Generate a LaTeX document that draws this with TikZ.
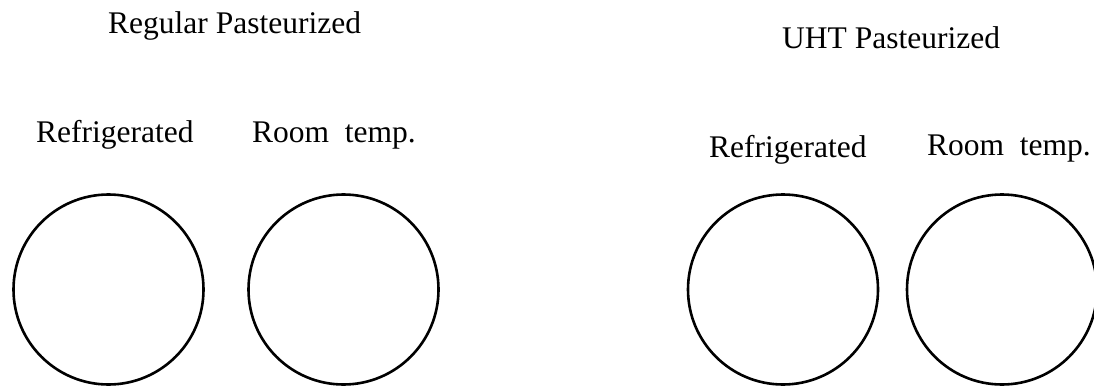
\documentclass[tikz,border=0pt]{standalone}
\usepackage{fontspec}
\setmainfont{Liberation Serif}
\begin{document}
\begin{tikzpicture}[x=1pt,y=-1pt,
  lbl/.style={anchor=base west,inner sep=0pt,font=\fontsize{31.5}{36}\selectfont},
  jar/.style={circle,draw=black,line width=2.6pt,minimum size=190pt,inner sep=0pt}]
\useasboundingbox (0,0) rectangle (1094,388);
\clip (0,0) rectangle (1094,388);
\node[lbl] (rp) at (108,33) {Regular Pasteurized};
\node[lbl] (uht) at (782,48) {UHT Pasteurized};
\node[lbl] (rr1) at (36,142) {Refrigerated};
\node[lbl] (rt1) at (252,142) {Room\ \ temp.};
\node[lbl] (rr2) at (709,157) {Refrigerated};
\node[lbl] (rt2) at (927,155) {Room\ \ temp.};
\node[jar] (c1) at (108.5,289.5) {};
\node[jar] (c2) at (343.5,289.5) {};
\node[jar] (c3) at (783,289.5) {};
\node[jar] (c4) at (1002,289.5) {};
\end{tikzpicture}
\end{document}
